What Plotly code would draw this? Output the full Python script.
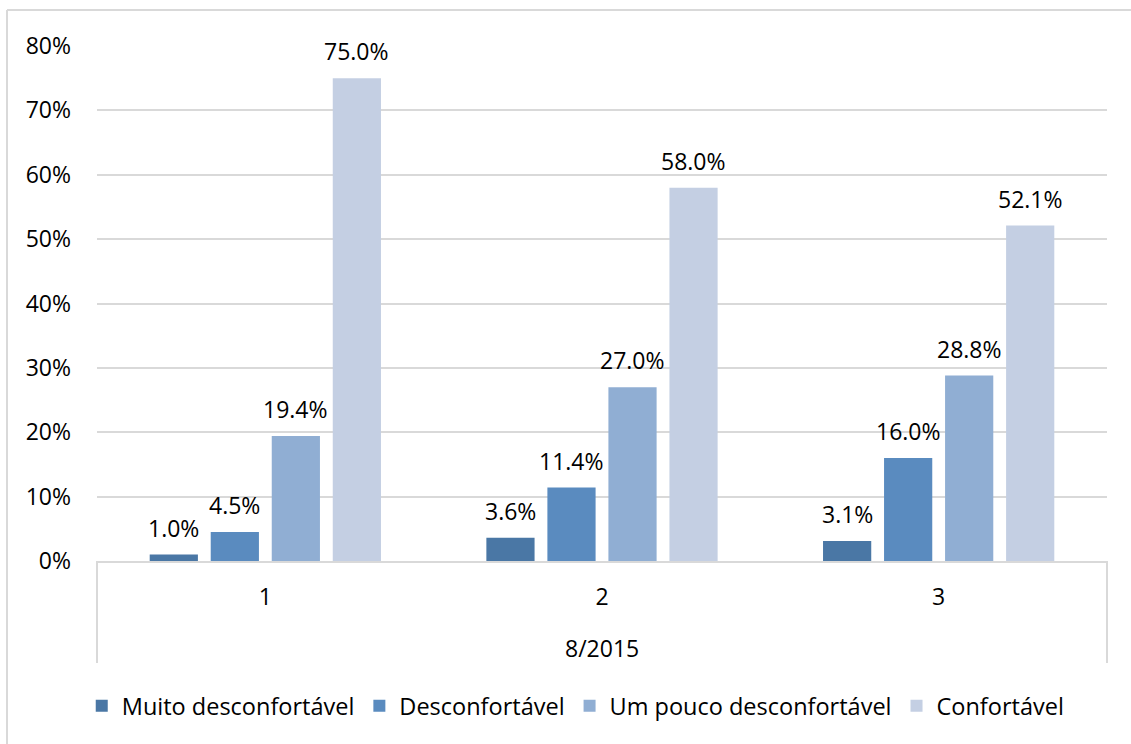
import plotly.graph_objects as go

# Survey responses by group (share of respondents)
groups = ["1", "2", "3"]
period_label = "8/2015"
series_names = ["Muito desconfortável", "Desconfortável", "Um pouco desconfortável", "Confortável"]
muito_desconfortavel = [0.010, 0.036, 0.031]
desconfortavel = [0.045, 0.114, 0.160]
um_pouco_desconfortavel = [0.194, 0.270, 0.288]
confortavel = [0.750, 0.580, 0.521]
y_ticks = [0, 0.1, 0.2, 0.3, 0.4, 0.5, 0.6, 0.7, 0.8]

series_values = [muito_desconfortavel, desconfortavel, um_pouco_desconfortavel, confortavel]
colors = ["#4A77A5", "#5A8BBF", "#90AED3", "#C4CFE3"]

FONT = "Open Sans"
W, H = 1131, 744
ML, MR, MT, MB = 97, 24, 46, 183
PH = H - MT - MB
PW = W - ML - MR
BARGAP = 0.275
BARGROUPGAP = 0.21

fig = go.Figure()
for name, vals, col in zip(series_names, series_values, colors):
    fig.add_trace(go.Bar(
        name=name,
        x=groups,
        y=vals,
        marker=dict(color=col, line=dict(width=0)),
    ))

# value labels above each bar, placed at the bar's slot within its group
n_series = len(series_values)
slot = (1 - BARGAP) / n_series
annotations = []
for s, vals in enumerate(series_values):
    off = (s - (n_series - 1) / 2) * slot
    for i, v in enumerate(vals):
        annotations.append(dict(
            x=i + off, y=v, xref="x", yref="y", text=f"{v:.1%}",
            showarrow=False, yanchor="middle", yshift=27,
            font=dict(family=FONT, size=23, color="#000000"),
        ))
annotations.append(dict(text=period_label, xref="paper", yref="paper", x=0.5,
                        y=-87 / PH, xanchor="center", yanchor="middle",
                        showarrow=False, font=dict(family=FONT, size=23, color="#000000")))

# frame edges and the category-level divider lines
line_col = "#D9D9D9"
shapes = [
    dict(type="line", xref="paper", yref="paper", x0=-90 / PW, x1=(W - ML) / PW,
         y0=1 + 36 / PH, y1=1 + 36 / PH, line=dict(color=line_col, width=2)),
    dict(type="line", xref="paper", yref="paper", x0=-90 / PW, x1=-90 / PW,
         y0=1 + 36 / PH, y1=-(H - MT) / PH, line=dict(color=line_col, width=2)),
    dict(type="line", xref="paper", yref="paper", x0=0, x1=0,
         y0=0, y1=-102 / PH, line=dict(color=line_col, width=2)),
    dict(type="line", xref="paper", yref="paper", x0=1, x1=1,
         y0=0, y1=-102 / PH, line=dict(color=line_col, width=2)),
]

fig.update_layout(
    width=W, height=H,
    margin=dict(l=ML, r=MR, t=MT, b=MB),
    paper_bgcolor="white", plot_bgcolor="white",
    barmode="group", bargap=BARGAP, bargroupgap=BARGROUPGAP,
    font=dict(family=FONT, size=23, color="#000000"),
    shapes=shapes,
    annotations=annotations,
    legend=dict(orientation="h", x=0.474, xanchor="center", y=-145 / PH,
                yanchor="middle", font=dict(family=FONT, size=23.5, color="#000000"),
                itemwidth=30, traceorder="normal"),
    showlegend=True,
)
fig.update_xaxes(
    type="category", showgrid=False, showline=True, linecolor=line_col, linewidth=2,
    ticks="", ticklabelstandoff=14, tickfont=dict(family=FONT, size=23),
)
fig.update_yaxes(
    range=[0, 0.8], tickvals=y_ticks, tickformat=".0%", showgrid=True,
    gridcolor=line_col, gridwidth=1.5, zeroline=False, showline=False,
    ticks="", ticklabelstandoff=25, tickfont=dict(family=FONT, size=23),
)

fig.write_html("out.html")
